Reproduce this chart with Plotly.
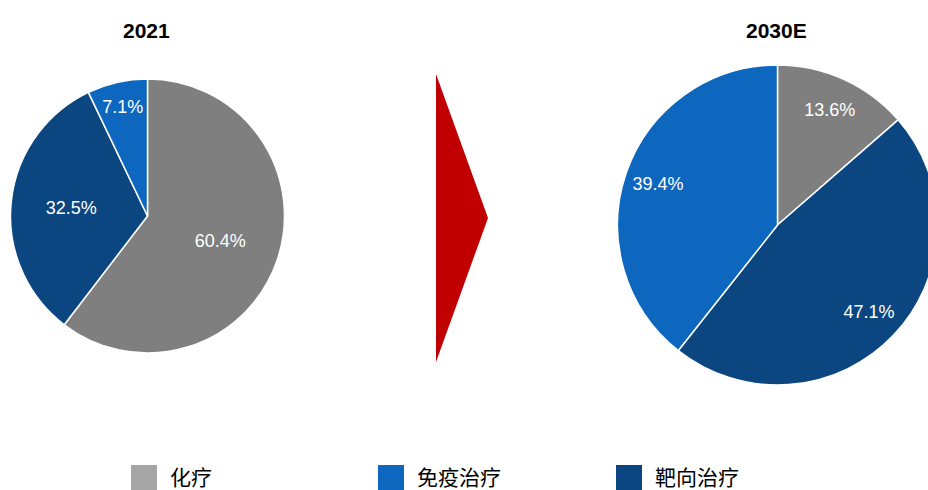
import plotly.graph_objects as go

# ---- data ----
categories = ["化疗", "免疫治疗", "靶向治疗"]
share_2021 = [60.4, 7.1, 32.5]
share_2030 = [13.6, 39.4, 47.1]
years = ["2021", "2030E"]
slice_order = ["化疗", "靶向治疗", "免疫治疗"]  # clockwise from 12 o'clock

pie_colors = {"化疗": "#7f7f7f", "免疫治疗": "#0e67be", "靶向治疗": "#0b4680"}
legend_colors = {"化疗": "#a6a6a6", "免疫治疗": "#0e67be", "靶向治疗": "#0b4680"}

W, H = 940, 490

def px(x):
    return x / W

def py(y):
    return 1 - y / H

fig = go.Figure()

# pie geometry in pixels: (cx, cy, r), and hole of transparent label ring
geoms = [(147.5, 216, 137), (777.5, 225, 160)]
label_holes = [0.12, 0.58]
datasets = [share_2021, share_2030]

for (cx, cy, r), vals, hole in zip(geoms, datasets, label_holes):
    ordered = [vals[categories.index(c)] for c in slice_order]
    dom = dict(x=[px(cx - r), px(cx + r)], y=[py(cy + r), py(cy - r)])
    fig.add_trace(go.Pie(
        labels=slice_order,
        values=ordered,
        sort=False,
        direction="clockwise",
        rotation=0,
        marker=dict(colors=[pie_colors[c] for c in slice_order],
                    line=dict(color="white", width=1.5)),
        textinfo="none",
        hoverinfo="label+value",
        showlegend=False,
        domain=dom,
    ))
    # transparent ring that carries the value labels
    fig.add_trace(go.Pie(
        labels=slice_order,
        values=ordered,
        sort=False,
        direction="clockwise",
        rotation=0,
        hole=hole,
        marker=dict(colors=["rgba(0,0,0,0)"] * len(slice_order),
                    line=dict(width=0)),
        texttemplate="%{value:.1f}%",
        textposition="inside",
        insidetextorientation="horizontal",
        insidetextfont=dict(color="white", size=18, family="Liberation Sans, Arial"),
        hoverinfo="skip",
        showlegend=False,
        domain=dom,
    ))

annotations = []
for (cx, cy, r), yr in zip(geoms, years):
    annotations.append(dict(
        text=f"<b>{yr}</b>", x=px(cx - 1), y=py(31), xref="paper", yref="paper",
        xanchor="center", yanchor="middle", showarrow=False,
        font=dict(size=21, color="black", family="Liberation Sans, Arial"),
    ))

shapes = []
# red arrow between the pies
shapes.append(dict(
    type="path", xref="paper", yref="paper",
    path=f"M {px(436)} {py(74)} L {px(488)} {py(218)} L {px(436)} {py(362)} Z",
    fillcolor="#c00000", line=dict(width=0),
))

# custom legend
legend_x = [131, 378, 616]
for cat, lx in zip(categories, legend_x):
    shapes.append(dict(
        type="rect", xref="paper", yref="paper",
        x0=px(lx), x1=px(lx + 26), y0=py(491), y1=py(465),
        fillcolor=legend_colors[cat], line=dict(width=0),
    ))
    annotations.append(dict(
        text=cat, x=px(lx + 37), y=py(476), xref="paper", yref="paper",
        xanchor="left", yanchor="middle", showarrow=False,
        font=dict(size=21, color="black", family="Noto Sans CJK SC"),
    ))

fig.update_layout(
    width=W, height=H,
    margin=dict(l=0, r=0, t=0, b=0),
    paper_bgcolor="white", plot_bgcolor="white",
    annotations=annotations, shapes=shapes,
    showlegend=False,
)

fig.write_html(
    "out.html",
    post_script="document.documentElement.style.overflow='hidden';document.body.style.overflow='hidden';",
)
